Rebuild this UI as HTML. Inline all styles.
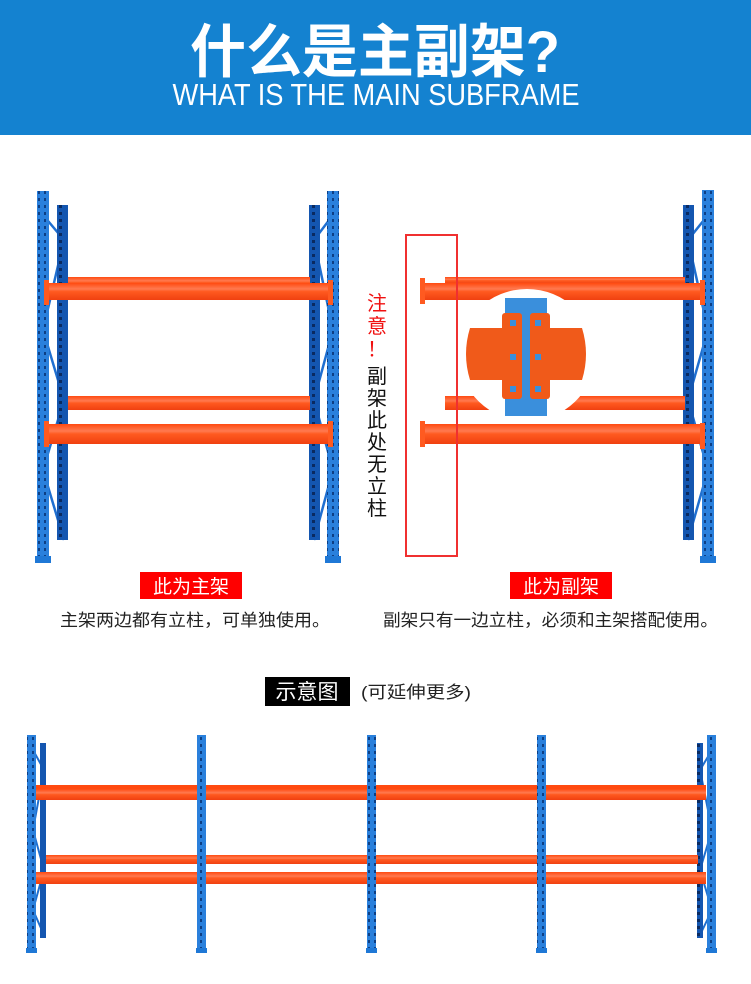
<!DOCTYPE html>
<html><head><meta charset="utf-8"><style>
html,body{margin:0;padding:0;background:#fff;}
svg{display:block;}
text{font-family:"Liberation Sans","Noto Sans CJK SC",sans-serif;}
</style></head><body>
<svg width="751" height="984" viewBox="0 0 751 984" xmlns="http://www.w3.org/2000/svg">
<defs>
<pattern id="holes" x="0" y="0" width="12" height="7" patternUnits="userSpaceOnUse">
<rect x="0" y="0" width="12" height="7" fill="#2a80dc"/>
<rect x="2" y="2" width="2" height="3" fill="#0d3f85"/>
<rect x="8" y="2" width="2" height="3" fill="#0d3f85"/>
</pattern>
<pattern id="holesD" x="0" y="0" width="11" height="7" patternUnits="userSpaceOnUse">
<rect x="0" y="0" width="11" height="7" fill="#1456b0"/>
<rect x="4" y="2" width="3" height="3" fill="#0a2a60"/>
</pattern>
<linearGradient id="beam" x1="0" y1="0" x2="0" y2="1">
<stop offset="0" stop-color="#ff4a10"/><stop offset="0.35" stop-color="#ff7a50"/><stop offset="0.5" stop-color="#ff5a20"/><stop offset="1" stop-color="#f04010"/>
</linearGradient>
</defs>

<rect x="0" y="0" width="751" height="135" fill="#1482d0"/>
<text x="375" y="72" font-size="58" font-weight="bold" fill="#fff" text-anchor="middle" textLength="370" lengthAdjust="spacingAndGlyphs">什么是主副架?</text>
<text x="376" y="105" font-size="31" fill="#fff" text-anchor="middle" textLength="407" lengthAdjust="spacingAndGlyphs">WHAT IS THE MAIN SUBFRAME</text>

<!-- LEFT RACK -->
<g>
<g stroke="#1f6fd0" stroke-width="2.5" fill="none">
<polyline points="43,215 64,240 43,330 64,400 43,470 64,540"/>
<polyline points="333,215 314,240 333,330 314,400 333,470 314,540"/>
</g>
<rect x="57" y="205" width="11" height="335" fill="url(#holesD)"/>
<rect x="309" y="205" width="11" height="335" fill="url(#holesD)"/>
<rect x="37" y="191" width="12" height="372" fill="url(#holes)"/>
<rect x="327" y="191" width="12" height="372" fill="url(#holes)"/>
<rect x="35" y="556" width="16" height="7" fill="#1f78d6"/>
<rect x="325" y="556" width="16" height="7" fill="#1f78d6"/>
<rect x="68" y="277" width="242" height="11" fill="url(#beam)"/>
<rect x="46" y="283" width="286" height="17" fill="url(#beam)"/>
<rect x="44" y="280" width="5" height="25" fill="#ff5a20"/><rect x="328" y="280" width="5" height="25" fill="#ff5a20"/>
<rect x="68" y="396" width="242" height="14" fill="url(#beam)"/>
<rect x="46" y="424" width="286" height="20" fill="url(#beam)"/>
<rect x="44" y="421" width="5" height="26" fill="#ff5a20"/><rect x="328" y="421" width="5" height="26" fill="#ff5a20"/>
</g>

<!-- RIGHT RACK -->
<g>
<g stroke="#1f6fd0" stroke-width="2.5" fill="none">
<polyline points="708,215 688,240 708,330 688,400 708,470 688,540"/>
</g>
<rect x="683" y="205" width="11" height="335" fill="url(#holesD)"/>
<rect x="702" y="190" width="12" height="373" fill="url(#holes)"/>
<rect x="700" y="556" width="16" height="7" fill="#1f78d6"/>
<rect x="445" y="277" width="240" height="7" fill="url(#beam)"/>
<rect x="424" y="283" width="280" height="17" fill="url(#beam)"/>
<rect x="420" y="278" width="5" height="26" fill="#ff5a20"/><rect x="700" y="280" width="5" height="25" fill="#ff5a20"/>
<rect x="445" y="396" width="240" height="14" fill="url(#beam)"/>
<rect x="424" y="424" width="280" height="20" fill="url(#beam)"/>
<rect x="420" y="421" width="5" height="26" fill="#ff5a20"/><rect x="700" y="423" width="5" height="26" fill="#ff5a20"/>
<ellipse cx="527" cy="355" rx="68" ry="66" fill="#fff"/>
<rect x="505" y="298" width="42" height="118" fill="#3a8fdc"/>
<path d="M470,328 L504,328 L504,380 L470,380 Q462,354 470,328 Z" fill="#f05a1a"/>
<path d="M548,328 L582,328 Q590,354 582,380 L548,380 Z" fill="#f05a1a"/>
<rect x="502" y="313" width="20" height="86" rx="3" fill="#f05a1a"/>
<rect x="530" y="313" width="20" height="86" rx="3" fill="#f05a1a"/>
<g fill="#3a8fdc"><rect x="510" y="320" width="6" height="6"/><rect x="535" y="320" width="6" height="6"/><rect x="510" y="354" width="6" height="6"/><rect x="535" y="354" width="6" height="6"/><rect x="510" y="386" width="6" height="6"/><rect x="535" y="386" width="6" height="6"/></g>
<rect x="406" y="235" width="51" height="321" fill="none" stroke="#f03030" stroke-width="2"/>
</g>

<g font-size="20" text-anchor="middle">
<text x="377" y="310" fill="#f01010">注</text>
<text x="377" y="333" fill="#f01010">意</text>
<text x="377" y="356" fill="#f01010">！</text>
<text x="377" y="383" fill="#111">副</text>
<text x="377" y="405" fill="#111">架</text>
<text x="377" y="427" fill="#111">此</text>
<text x="377" y="449" fill="#111">处</text>
<text x="377" y="471" fill="#111">无</text>
<text x="377" y="493" fill="#111">立</text>
<text x="377" y="515" fill="#111">柱</text>
</g>

<rect x="140" y="572" width="102" height="27" fill="#f00"/>
<text x="191" y="593" font-size="19" fill="#fff" text-anchor="middle">此为主架</text>
<rect x="510" y="572" width="102" height="27" fill="#f00"/>
<text x="561" y="593" font-size="19" fill="#fff" text-anchor="middle">此为副架</text>
<text x="60" y="626" font-size="17" fill="#222" textLength="270" lengthAdjust="spacingAndGlyphs">主架两边都有立柱，可单独使用。</text>
<text x="383" y="626" font-size="17" fill="#222" textLength="335" lengthAdjust="spacingAndGlyphs">副架只有一边立柱，必须和主架搭配使用。</text>

<rect x="265" y="677" width="85" height="29" fill="#000"/>
<text x="307" y="699" font-size="21" fill="#fff" text-anchor="middle">示意图</text>
<text x="361" y="698" font-size="17" fill="#222" textLength="110" lengthAdjust="spacingAndGlyphs">(可延伸更多)</text>

<!-- BOTTOM RACK -->
<g>
<g stroke="#1f6fd0" stroke-width="2" fill="none">
<polyline points="33,750 44,770 33,830 44,870 33,910 44,935"/>
<polyline points="712,750 700,770 712,830 700,870 712,910 700,935"/>
</g>
<rect x="40" y="743" width="6" height="195" fill="url(#holesD)"/>
<rect x="697" y="743" width="6" height="195" fill="url(#holesD)"/>
<rect x="34" y="785" width="672" height="5" fill="#ff4a10"/>
<rect x="34" y="789" width="672" height="11" fill="url(#beam)"/>
<rect x="46" y="855" width="652" height="9" fill="url(#beam)"/>
<rect x="34" y="872" width="672" height="12" fill="url(#beam)"/>
<g fill="url(#holes)">
<rect x="27" y="735" width="9" height="217"/>
<rect x="197" y="735" width="9" height="217"/>
<rect x="367" y="735" width="9" height="217"/>
<rect x="537" y="735" width="9" height="217"/>
<rect x="707" y="735" width="9" height="217"/>
</g>
<g fill="#1f78d6">
<rect x="26" y="948" width="11" height="5"/><rect x="196" y="948" width="11" height="5"/><rect x="366" y="948" width="11" height="5"/><rect x="536" y="948" width="11" height="5"/><rect x="706" y="948" width="11" height="5"/>
</g>
</g>
</svg>
</body></html>
